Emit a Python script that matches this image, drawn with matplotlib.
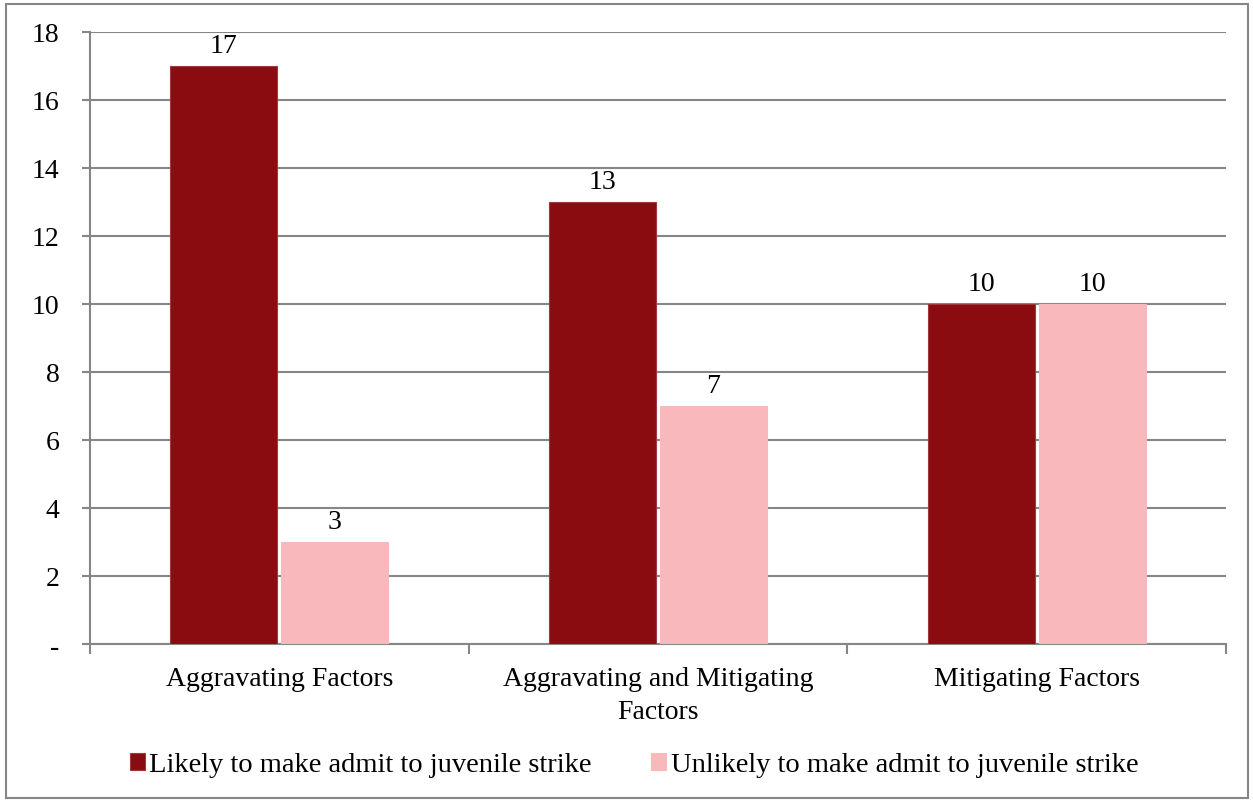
import numpy as np
from matplotlib import pyplot as plt
from matplotlib.patches import Rectangle

categories = ['Aggravating Factors', 'Aggravating and Mitigating\nFactors', 'Mitigating Factors']
likely = [17, 13, 10]
unlikely = [3, 7, 10]
series_names = ['Likely to make admit to juvenile strike', 'Unlikely to make admit to juvenile strike']
y_ticks = [0, 2, 4, 6, 8, 10, 12, 14, 16, 18]
y_tick_labels = ['-', '2', '4', '6', '8', '10', '12', '14', '16', '18']

dark = '#8a0c11'
pink = '#f9b9bc'
grey = '#868686'
fs = 20

plt.rcParams['font.family'] = ['Liberation Serif', 'DejaVu Serif']

fig = plt.figure(figsize=(12.53, 8.04), dpi=100)
ax = fig.add_axes([90 / 1253, 1 - 645 / 804, 1136 / 1253, 612 / 804])

# outer chart border
fig.patches.append(Rectangle((6 / 1253, 5 / 804), 1242 / 1253, 794 / 804, transform=fig.transFigure,
                             fill=False, edgecolor=grey, linewidth=1.5))

x = np.arange(len(categories))
w = 0.283
gap = 0.005
b1 = ax.bar(x - w / 2 - gap, likely, w, color=dark, edgecolor='#a0393d', linewidth=0.8, label=series_names[0], zorder=3)
b2 = ax.bar(x + w / 2 + gap, unlikely, w, color=pink, edgecolor=pink, linewidth=0.8, label=series_names[1], zorder=3)

for bars in (b1, b2):
    for rect in bars:
        ax.annotate(str(int(rect.get_height())), (rect.get_x() + rect.get_width() / 2, rect.get_height()),
                    xytext=(0, 6), textcoords='offset points', ha='center', va='bottom', fontsize=fs)

ax.set_xlim(-0.5, 2.5)
ax.set_ylim(0, 18)
ax.set_yticks(y_ticks)
ax.set_yticklabels(y_tick_labels, fontsize=fs)
ax.yaxis.grid(True, color=grey, linewidth=1.5, zorder=0)
ax.tick_params(axis='y', length=6, width=1.5, color=grey, pad=16)

ax.set_xticks(x)
ax.set_xticklabels(categories, fontsize=20, linespacing=1.4)
ax.tick_params(axis='x', length=0, pad=16)
ax.set_xticks([-0.5, 0.5, 1.5, 2.5], minor=True)
ax.tick_params(axis='x', which='minor', length=7, width=1.5, color=grey, direction='out')

for s in ('top', 'right'):
    ax.spines[s].set_visible(False)
for s in ('left', 'bottom'):
    ax.spines[s].set_color(grey)
    ax.spines[s].set_linewidth(1.5)

fig.legend(loc='center', bbox_to_anchor=(634 / 1253, 1 - 766 / 804), ncol=2, frameon=False, fontsize=20.5,
           handlelength=0.53, handleheight=0.53, handletextpad=0.15, columnspacing=2.1)

fig.savefig('out.png', dpi=100)
